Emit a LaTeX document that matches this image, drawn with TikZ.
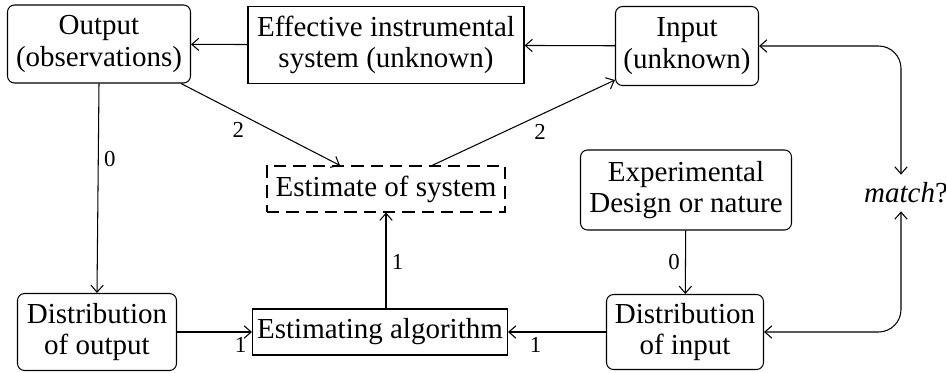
\documentclass[tikz,border=0pt]{standalone}
\usepackage{fontspec}
\setmainfont{Liberation Serif}
\usetikzlibrary{arrows, arrows.meta, positioning, calc}
\tikzset{%
	rbox/.style={draw, rectangle, rounded corners=4pt, align=center, inner sep=0mm,%
		font=\fontsize{16.5}{18}\selectfont, semithick},
	sbox/.style={draw, rectangle, align=center, inner sep=0mm,%
		font=\fontsize{16.5}{18}\selectfont, semithick},
	est/.style={sbox, dash pattern=on 7pt off 4pt},
	sel/.style={-{Straight Barb[length=4pt, width=7pt]}, semithick},
	both/.style={{Straight Barb[length=4pt, width=7pt]}-{Straight Barb[length=4pt, width=7pt]}, semithick},
	num/.style={font=\fontsize{13}{15}\selectfont, inner sep=3pt}
}
\begin{document}
\begin{tikzpicture}
	\useasboundingbox (0,0) rectangle (18.92,7.44);

	\node[rbox, minimum width=3.66cm, minimum height=1.56cm] (output) at (1.98,6.56) {Output\\(observations)};
	\node[sbox, minimum width=5.52cm, minimum height=1.54cm] (system) at (7.72,6.54) {Effective instrumental\\system (unknown)};
	\node[rbox, minimum width=2.86cm, minimum height=1.58cm] (input) at (13.74,6.52) {Input\\(unknown)};
	\node[est, minimum width=4.76cm, minimum height=0.92cm] (estimate) at (7.72,3.66) {Estimate of system};
	\node[rbox, minimum width=4.22cm, minimum height=1.6cm] (design) at (13.72,3.64) {Experimental\\Design or nature};
	\node[font=\fontsize{16.5}{18}\selectfont, minimum height=0.72cm, inner sep=0mm] (match) at (18.12,3.58) {\textit{match}?};
	\node[rbox, minimum width=3.18cm, minimum height=1.54cm] (distout) at (1.94,0.8) {Distribution\\of output};
	\node[sbox, minimum width=5.1cm, minimum height=0.92cm] (algo) at (7.6,0.8) {Estimating algorithm};
	\node[rbox, minimum width=3.14cm, minimum height=1.5cm] (distin) at (13.7,0.8) {Distribution\\of input};

	\draw[sel] (system) to (output);
	\draw[sel] (input) to (system);
	\draw[sel] (output.south) to node[num, pos=0.36, right]{0} (distout.north);
	\draw[sel] ([xshift=-0.2cm]output.south east) to node[num, pos=0.36, below=2pt]{2} ([xshift=-0.92cm]estimate.north);
	\draw[sel] ([xshift=0.92cm]estimate.north) to node[num, pos=0.59, below=2pt]{2} ([yshift=0.12cm]input.south west);
	\draw[sel] (estimate.south |- algo.north) to node[num, pos=0.48, right]{1} (estimate.south);
	\draw[sel] (distout) to node[num, pos=1, below left]{1} (algo);
	\draw[sel] (distin) to node[num, pos=0.72, below]{1} (algo);
	\draw[sel] (design) to node[num, pos=0.5, left]{0} (distin);
	\draw[both, rounded corners=0.45cm] (input.east) -| ([xshift=-0.1cm]match.north);
	\draw[both, rounded corners=0.45cm] (distin.east) -| ([xshift=-0.1cm]match.south);
\end{tikzpicture}
\end{document}
